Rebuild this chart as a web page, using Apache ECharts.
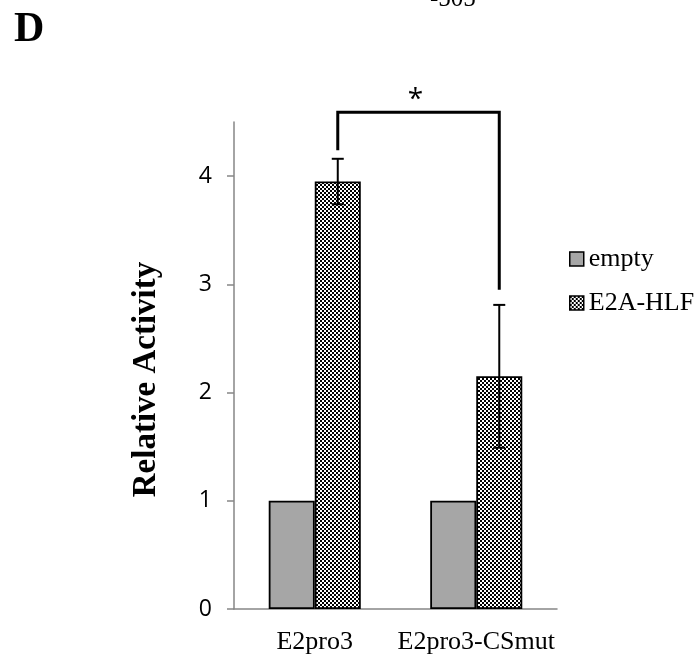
<!DOCTYPE html>
<html><head><meta charset="utf-8">
<script src="https://cdn.jsdelivr.net/npm/echarts@6/dist/echarts.min.js"></script>
<style>html,body{margin:0;padding:0;background:#fff}#c{width:699px;height:659px}</style>
</head><body><div id="c"></div>
<script>
const categories = ['E2pro3', 'E2pro3-CSmut'];
const emptyVals = [1, 1];
const hlfVals = [3.95, 2.15];
const hlfErr = [0.21, 0.66];
const yTicks = [0, 1, 2, 3, 4];
const bracket = {from: 0, to: 1, top: 4.59, leftEnd: 4.24, rightEnd: 2.95, label: '*'};

const pc = document.createElement('canvas');
pc.width = 4; pc.height = 4;
const g = pc.getContext('2d');
g.fillStyle = '#fff'; g.fillRect(0,0,4,4);
g.fillStyle = '#000'; g.fillRect(0,0,2,2); g.fillRect(2,2,2,2);

const chart = echarts.init(document.getElementById('c'), null, {renderer: 'canvas'});
const serif = '"Liberation Serif", "DejaVu Serif", serif';
const sans = '"Open Sans", "Liberation Sans", sans-serif';

chart.setOption({
  animation: false,
  graphic: [
    {type: 'text', left: 14, top: 9, style: {text: 'D', font: 'bold 42px ' + serif, fill: '#000'}},
    {type: 'text', left: 430, top: -13, style: {text: '-505', font: '25px ' + serif, fill: '#000'}}
  ],
  legend: {
    orient: 'vertical', left: 564, top: 241, itemGap: 18, itemWidth: 14, itemHeight: 14,
    textStyle: {fontFamily: serif, fontSize: 26, color: '#000'},
    data: [
      {name: 'empty', icon: 'rect', itemStyle: {color: '#a6a6a6', borderColor: '#000', borderWidth: 1.5}},
      {name: 'E2A-HLF', icon: 'rect', itemStyle: {color: {image: pc, repeat: 'repeat'}, borderColor: '#000', borderWidth: 1.5}}
    ]
  },
  grid: {left: 234, right: 142, top: 122, bottom: 50},
  xAxis: {
    type: 'category', data: categories,
    axisLine: {lineStyle: {color: '#868686', width: 1.5}},
    axisTick: {show: false},
    axisLabel: {interval: 0, hideOverlap: false, fontFamily: serif, fontSize: 26, color: '#000', margin: 20}
  },
  yAxis: {
    type: 'value', min: 0, max: 4.5, interval: 1,
    name: 'Relative Activity', nameLocation: 'middle', nameGap: 71,
    nameTextStyle: {fontFamily: serif, fontSize: 33, fontWeight: 'bold', color: '#000', padding: [0, 28, 0, 0]},
    axisLine: {show: true, lineStyle: {color: '#868686', width: 1.5}},
    axisTick: {show: true, length: 7, customValues: yTicks, lineStyle: {color: '#868686', width: 1.5}},
    axisLabel: {customValues: yTicks, fontFamily: sans, fontSize: 23, color: '#000', margin: 22},
    splitLine: {show: false}
  },
  series: [
    {name: 'empty', type: 'bar', data: emptyVals, barWidth: '28.5%', barGap: '0%',
     itemStyle: {color: '#a6a6a6', borderColor: '#000', borderWidth: 1.8}},
    {name: 'E2A-HLF', type: 'bar', data: hlfVals, barWidth: '28.5%', barGap: '0%',
     itemStyle: {color: {image: pc, repeat: 'repeat'}, borderColor: '#000', borderWidth: 1.8}},
    {name: 'err', type: 'custom', z: 10,
     data: hlfVals.map((v, i) => [i, v - hlfErr[i], v + hlfErr[i]]),
     renderItem: function (params, api) {
       const i = api.value(0);
       const lo = api.coord([i, api.value(1)]);
       const hi = api.coord([i, api.value(2)]);
       const bw = api.size([1, 0])[0];
       const x = lo[0] + bw * 0.1425;
       const cap = 6;
       const st = {stroke: '#000', lineWidth: 2};
       return {type: 'group', children: [
         {type: 'line', shape: {x1: x, y1: lo[1], x2: x, y2: hi[1]}, style: st},
         {type: 'line', shape: {x1: x - cap, y1: lo[1], x2: x + cap, y2: lo[1]}, style: st},
         {type: 'line', shape: {x1: x - cap, y1: hi[1], x2: x + cap, y2: hi[1]}, style: st}
       ]};
     }},
    {name: 'bracket', type: 'custom', z: 10, clip: false,
     data: [[bracket.from, bracket.to, bracket.top, bracket.leftEnd, bracket.rightEnd]],
     renderItem: function (params, api) {
       const bw = api.size([1, 0])[0];
       const off = bw * 0.1425;
       const a = api.coord([api.value(0), api.value(2)]);
       const b = api.coord([api.value(1), api.value(2)]);
       const ae = api.coord([api.value(0), api.value(3)]);
       const be = api.coord([api.value(1), api.value(4)]);
       const x1 = a[0] + off, x2 = b[0] + off;
       return {type: 'group', children: [
         {type: 'polyline', shape: {points: [[x1, ae[1]], [x1, a[1]], [x2, b[1]], [x2, be[1]]]}, style: {stroke: '#000', lineWidth: 3, fill: null}},
         {type: 'text', x: (x1 + x2) / 2 - 3, y: a[1] - 12, style: {text: bracket.label, font: '28px ' + sans, fill: '#000', align: 'center', verticalAlign: 'middle'}}
       ]};
     }}
  ]
});
</script></body></html>
